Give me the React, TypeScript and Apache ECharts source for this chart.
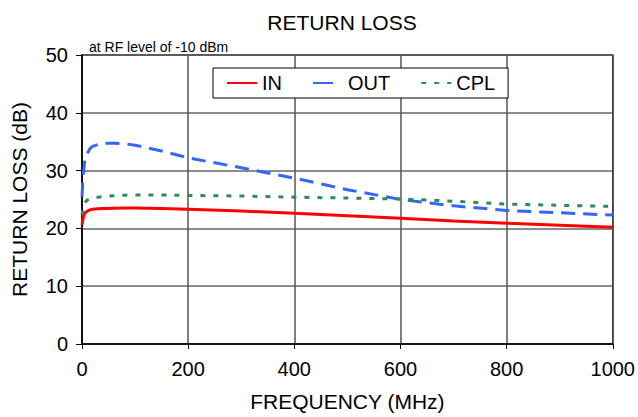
import React, { useEffect, useRef } from "react";
import * as echarts from "echarts";

const freqMHz = [0, 2, 5, 10, 15, 20, 30, 40, 60, 80, 100, 150, 200, 300, 400, 500, 600, 700, 800, 900, 1000];
const inLoss = [20.6, 21.8, 22.6, 23.0, 23.2, 23.3, 23.4, 23.45, 23.5, 23.55, 23.55, 23.45, 23.3, 23.0, 22.6, 22.2, 21.75, 21.3, 20.9, 20.55, 20.2];
const outLoss = [25.5, 29.0, 31.5, 33.0, 33.8, 34.2, 34.5, 34.7, 34.75, 34.65, 34.4, 33.4, 32.2, 30.5, 28.7, 26.7, 25.0, 23.9, 23.1, 22.7, 22.3];
const cplLoss = [22.3, 23.5, 24.4, 24.9, 25.1, 25.2, 25.4, 25.5, 25.65, 25.75, 25.8, 25.8, 25.7, 25.6, 25.4, 25.25, 25.1, 24.7, 24.2, 24.0, 23.8];
const seriesNames = ["IN", "OUT", "CPL"];
const titleText = "RETURN LOSS";
const subText = "at RF level of -10 dBm";
const xName = "FREQUENCY (MHz)";
const yName = "RETURN LOSS (dB)";

const FONT = "'Liberation Sans', Arial, sans-serif";

export default function App() {
  const ref = useRef<HTMLDivElement>(null);
  useEffect(() => {
    document.body.style.margin = "0";
    if (!ref.current) return;
    const chart = echarts.init(ref.current, undefined, { renderer: "svg" });
    const pair = (ys: number[]) => freqMHz.map((f, i) => [f, ys[i]]);
    const mk = (name: string, ys: number[], color: string, type: any) => ({
      name,
      type: "line",
      data: pair(ys),
      showSymbol: false,
      symbol: "none",
      smooth: false,
      lineStyle: { color, width: 3, type },
      itemStyle: { color },
    });
    chart.setOption({
      animation: false,
      textStyle: { fontFamily: FONT },
      title: [
        {
          text: titleText,
          left: 337,
          top: 7,
          textAlign: "center",
          textStyle: { fontSize: 21, fontWeight: "normal", color: "#000", fontFamily: FONT },
        },
        {
          text: subText,
          left: 84,
          top: 35,
          textStyle: { fontSize: 14, fontWeight: "normal", color: "#000", fontFamily: FONT },
        },
      ],
      legend: {
        left: 213,
        top: 68,
        orient: "horizontal",
        backgroundColor: "#fff",
        borderColor: "#000",
        borderWidth: 1,
        borderRadius: 0,
        padding: [5, 13, 5, 13],
        itemWidth: 30,
        itemHeight: 14,
        itemGap: 30,
        itemStyle: { opacity: 0, borderWidth: 0 },
        textStyle: { fontSize: 20, color: "#000", fontFamily: FONT },
        data: [
          { name: seriesNames[0] },
          { name: seriesNames[1], lineStyle: { type: [20, 10] } },
          { name: seriesNames[2] },
        ],
      },
      grid: {
        left: 82,
        right: 21,
        top: 55,
        bottom: 72,
        show: true,
        borderColor: "#000",
        borderWidth: 1.5,
      },
      xAxis: {
        type: "value",
        min: 0,
        max: 1000,
        interval: 200,
        name: xName,
        nameLocation: "middle",
        nameGap: 47,
        nameTextStyle: { fontSize: 21, color: "#000", fontFamily: FONT },
        axisLine: { show: true, lineStyle: { color: "#000", width: 1.5 } },
        axisTick: { show: true, inside: false, length: 5, lineStyle: { color: "#000" } },
        axisLabel: { fontSize: 20, color: "#000", margin: 15, fontFamily: FONT, formatter: (v: number) => String(v) },
        splitLine: { show: true, lineStyle: { color: "#555", width: 1.5 } },
      },
      yAxis: {
        type: "value",
        min: 0,
        max: 50,
        interval: 10,
        name: yName,
        nameLocation: "middle",
        nameGap: 52,
        nameTextStyle: { fontSize: 21, color: "#000", fontFamily: FONT },
        axisLine: { show: true, lineStyle: { color: "#000", width: 1.5 } },
        axisTick: { show: true, inside: false, length: 6, lineStyle: { color: "#000" } },
        axisLabel: { fontSize: 20, color: "#000", margin: 14, fontFamily: FONT },
        splitLine: { show: true, lineStyle: { color: "#666", width: 1.5 } },
      },
      series: [
        mk(seriesNames[0], inLoss, "#ff0000", "solid"),
        mk(seriesNames[1], outLoss, "#3366ff", [14, 8]),
        mk(seriesNames[2], cplLoss, "#2e8b57", [5, 8]),
      ],
    });
    return () => chart.dispose();
  }, []);
  return <div ref={ref} style={{ width: 638, height: 417 }} />;
}
